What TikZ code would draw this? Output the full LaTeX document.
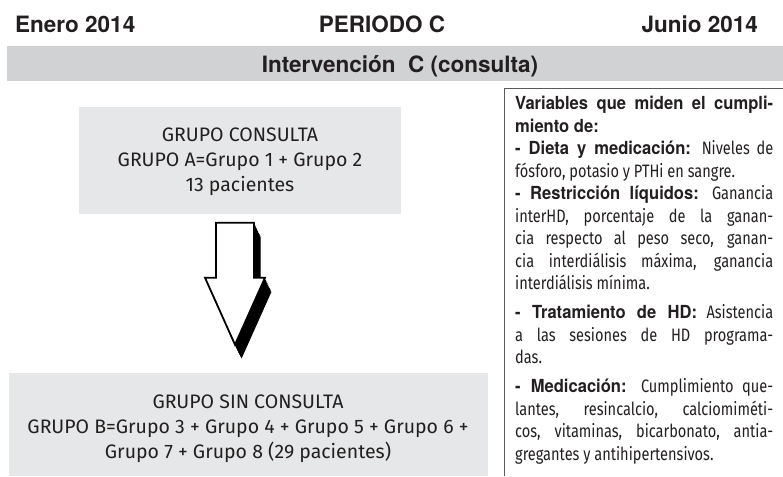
\documentclass[tikz,border=0pt]{standalone}
\usepackage{fontspec}
\setmainfont{Fira Sans}
\newfontfamily\headfont{TeX Gyre Heros}
\newfontfamily\boldfont{TeX Gyre Heros}[FakeStretch=0.92]
\newfontfamily\bodyfont{Fira Sans}[FakeStretch=0.81]
\usetikzlibrary{positioning, calc}

\definecolor{bandgray}{RGB}{209,210,212}
\definecolor{boxgray}{RGB}{230,231,232}
\definecolor{rulegray}{RGB}{90,90,90}
\definecolor{inktext}{RGB}{35,31,32}

\tikzset{
  headtext/.style={font=\headfont\bfseries\fontsize{22.5}{27}\selectfont, text=inktext, inner sep=0pt},
  grupobox/.style={fill=boxgray, inner sep=0pt},
  grupotext/.style={align=center, text=inktext, inner sep=0pt, font=\fontsize{19.5}{25}\selectfont},
  flechaline/.style={draw=black, fill=white, line width=1.8pt, line join=miter},
}
\newcommand{\hd}[1]{{\boldfont\bfseries #1}}
\newcommand{\flechapath}{(-19,0) -- (19,0) -- (19,55) -- (30,55) -- (0,122) -- (-30,55) -- (-19,55) -- cycle}
\hyphenpenalty=10000
\tolerance=9999

\begin{document}
\begin{tikzpicture}[x=1pt, y=-1pt]
  \useasboundingbox (0,0) rectangle (783,476);
  % cabecera
  \node[headtext, anchor=base west] (enero) at (15,33) {Enero 2014};
  \node[headtext, anchor=base] (periodo) at (382,33) {PERIODO C};
  \node[headtext, anchor=base east] (junio) at (758,33) {Junio 2014};
  \fill[bandgray] (7,46) rectangle (783,81);
  \node[headtext, anchor=base] (interv) at (400,73) {Intervención\ \ C (consulta)};
  % grupos
  \node[grupobox, minimum width=322pt, minimum height=107pt] (consulta) at (240,160) {};
  \node[grupotext] (consultatxt) at ($(consulta.center)+(0,2)$)
    {GRUPO CONSULTA\\GRUPO A=Grupo 1 + Grupo 2\\13 pacientes};
  \node[grupobox, minimum width=479pt, minimum height=103pt] (sinconsulta) at (248,424.5) {};
  \node[grupotext] (sinconsultatxt) at ($(sinconsulta.center)+(0,4)$)
    {GRUPO SIN CONSULTA\\GRUPO B=Grupo 3 + Grupo 4 + Grupo 5 + Grupo 6 +\\Grupo 7 + Grupo 8 (29 pacientes)};
  % flecha
  \coordinate (flecha) at ($(consulta.south)+(-5,9)$);
  \begin{scope}[shift={(flecha)}]
    \foreach \k in {1,...,12}
      \fill[black, shift={(0.55*\k,1.15*\k)}] \flechapath;
    \draw[flechaline] \flechapath;
  \end{scope}
  % variables
  \draw[rulegray, line width=0.8pt] (504,476) |- (783,88);
  \node[anchor=north west, text width=258pt, inner sep=0pt, align=justify, text=inktext,
    font=\bodyfont\fontsize{18}{22.5}\selectfont] (variables) at (515,96)
    {\hd{Variables que miden el cumpli-}\linebreak \hd{miento de:}\\
     \hd{- Dieta y medicación:} Niveles de\linebreak fósforo, potasio y PTHi en sangre.\\
     \hd{- Restricción líquidos:} Ganancia\linebreak interHD, porcentaje de la ganan-\linebreak
     cia respecto al peso seco, ganan-\linebreak cia interdiálisis máxima, ganancia\linebreak
     interdiálisis mínima.\\[6.5pt]
     \hd{- Tratamiento de HD:} Asistencia\linebreak a las sesiones de HD programa-\linebreak das.\\[6.5pt]
     \hd{- Medicación:} Cumplimiento que-\linebreak lantes, resincalcio, calciomiméti-\linebreak
     cos, vitaminas, bicarbonato, antia-\linebreak gregantes y antihipertensivos.};
\end{tikzpicture}
\end{document}
